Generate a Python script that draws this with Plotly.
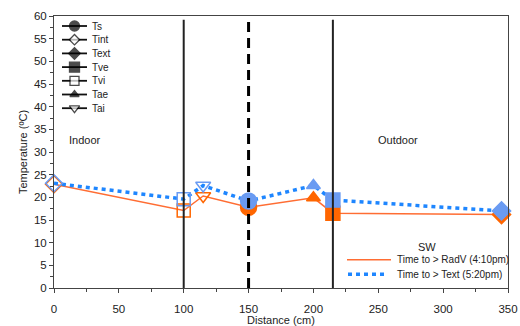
import plotly.graph_objects as go

# Sensor positions along the wall section (cm) and the sensor at each position
distance_cm = [0, 100, 115, 150, 200, 215, 345]
point_sensor = ["Tint", "Tvi", "Tai", "Ts", "Tae", "Tve", "Text"]

# Temperatures (ºC) at the two moments
temp_radv = [22.9, 17.1, 20.3, 17.8, 19.9, 16.5, 16.2]
temp_text = [23.1, 19.6, 22.6, 19.2, 22.6, 19.4, 17.0]

series_names = ["Time to > RadV (4:10pm)", "Time to > Text (5:20pm)"]

# Sensor legend entries
sensor_names = ["Ts", "Tint", "Text", "Tve", "Tvi", "Tae", "Tai"]

# Wall boundaries (solid) and radiator plane (dashed)
boundaries_cm = [100, 215]
radiator_cm = 150

symbol_of = {
    "Ts": "circle", "Tint": "diamond-open", "Text": "diamond",
    "Tve": "square", "Tvi": "square-open", "Tae": "triangle-up",
    "Tai": "triangle-down-open",
}
size_of = {
    "Ts": 16, "Tint": 13, "Text": 14, "Tve": 14, "Tvi": 13,
    "Tae": 12, "Tai": 13,
}
legend_symbol_of = {
    "Ts": "circle", "Tint": "diamond", "Text": "diamond", "Tve": "square",
    "Tvi": "square", "Tae": "triangle-up", "Tai": "triangle-down",
}
legend_fill_of = {
    "Ts": "black", "Tint": "white", "Text": "black", "Tve": "black",
    "Tvi": "white", "Tae": "black", "Tai": "white",
}
legend_size_of = {
    "Ts": 10, "Tint": 8, "Text": 9, "Tve": 10, "Tvi": 9, "Tae": 8, "Tai": 9,
}

FONT = "Liberation Sans, Arial, sans-serif"
ORANGE_LINE = "#FF6D33"
ORANGE_MARK = "#FF6600"
BLUE_LINE = "#1E86FF"
BLUE_MARK = "#6A9BF2"

fig = go.Figure()

symbols = [symbol_of[s] for s in point_sensor]
sizes = [size_of[s] for s in point_sensor]

fig.add_trace(go.Scatter(
    x=distance_cm, y=temp_radv, name=series_names[0], mode="lines+markers",
    line=dict(color=ORANGE_LINE, width=1.5),
    marker=dict(symbol=symbols, size=sizes, color=ORANGE_MARK, opacity=1,
                line=dict(color=ORANGE_MARK, width=1.5)),
    cliponaxis=False, showlegend=False,
))
fig.add_trace(go.Scatter(
    x=distance_cm, y=temp_text, name=series_names[1], mode="lines+markers",
    line=dict(color=BLUE_LINE, width=3.5, dash="4px,4px"),
    marker=dict(symbol=symbols, size=sizes, color=BLUE_MARK, opacity=1,
                line=dict(color=BLUE_MARK, width=1.5)),
    cliponaxis=False, showlegend=False,
))

# Wall and radiator markers
for b in boundaries_cm:
    fig.add_shape(type="line", x0=b, x1=b, y0=0, y1=59.2, xref="x", yref="y",
                  line=dict(color="#222222", width=2))
fig.add_shape(type="line", x0=radiator_cm, x1=radiator_cm, y0=0, y1=59.2,
              xref="x", yref="y",
              line=dict(color="black", width=3, dash="10px,6px"))

# Region labels
fig.add_annotation(x=10, y=32.7, text="Indoor", showarrow=False,
                   xanchor="left", font=dict(family=FONT, size=11, color="#222"))
fig.add_annotation(x=248.5, y=32.7, text="Outdoor", showarrow=False,
                   xanchor="left", font=dict(family=FONT, size=11, color="#222"))

# Legends, laid out on a pixel-scaled overlay axis
leg_x0, leg_x1, leg_xm = 62, 87, 74.5
leg_rows = [26 + 13.7 * i for i in range(len(sensor_names))]
lx, ly = [], []
for yy in leg_rows:
    lx += [leg_x0, leg_x1, None]
    ly += [yy, yy, None]
fig.add_trace(go.Scatter(
    x=lx, y=ly, mode="lines", xaxis="x2", yaxis="y2",
    line=dict(color="#111", width=1.8), showlegend=False, hoverinfo="skip",
))
fig.add_trace(go.Scatter(
    x=[leg_xm] * len(sensor_names), y=leg_rows, mode="markers",
    xaxis="x2", yaxis="y2",
    marker=dict(symbol=[legend_symbol_of[s] for s in sensor_names],
                size=[legend_size_of[s] for s in sensor_names],
                color=[legend_fill_of[s] for s in sensor_names],
                line=dict(color="black", width=1.3)),
    showlegend=False, hoverinfo="skip",
))
for name, yy in zip(sensor_names, leg_rows):
    fig.add_annotation(x=89.5, y=yy, xref="x2", yref="y2", text=name,
                       showarrow=False, xanchor="left",
                       font=dict(family=FONT, size=10, color="#222"))

# Series legend
fig.add_trace(go.Scatter(
    x=[347, 391], y=[259.7, 259.7], mode="lines", xaxis="x2", yaxis="y2",
    line=dict(color=ORANGE_LINE, width=1.5), showlegend=False, hoverinfo="skip",
))
fig.add_trace(go.Scatter(
    x=[348, 387], y=[274.3, 274.3], mode="lines", xaxis="x2", yaxis="y2",
    line=dict(color=BLUE_LINE, width=3.5, dash="4px,4px"),
    showlegend=False, hoverinfo="skip",
))
fig.add_annotation(x=426.5, y=247.3, xref="x2", yref="y2", text="SW",
                   showarrow=False, font=dict(family=FONT, size=11, color="#222"))
for name, yy in zip(series_names, [259.7, 274.3]):
    fig.add_annotation(x=395, y=yy, xref="x2", yref="y2", text=name,
                       showarrow=False, xanchor="left",
                       font=dict(family=FONT, size=10, color="#222"))

axis_common = dict(
    showline=True, linecolor="#444", linewidth=1, mirror=True,
    ticks="outside", ticklen=4, tickwidth=1, tickcolor="#444",
    showgrid=False, zeroline=False, automargin=False,
    tickfont=dict(family=FONT, size=11.5, color="#222"),
)

fig.update_layout(
    width=520, height=326,
    margin=dict(l=54, r=12, t=16, b=38),
    paper_bgcolor="white", plot_bgcolor="white",
    font=dict(family=FONT, color="#222"),
    xaxis=dict(range=[0, 350], dtick=50, tick0=0,
               minor=dict(ticks="outside", ticklen=3, dtick=25, tickcolor="#444"),
               title=dict(text="Distance (cm)", standoff=2,
                          font=dict(family=FONT, size=11)),
               ticklabelstandoff=6,
               **axis_common),
    yaxis=dict(range=[0, 60], dtick=5, tick0=0,
               minor=dict(ticks="outside", ticklen=3, dtick=2.5, tickcolor="#444"),
               title=dict(text="Temperature (ºC)", standoff=4,
                          font=dict(family=FONT, size=11)),
               **axis_common),
    xaxis2=dict(range=[54, 508], overlaying="x", visible=False,
                fixedrange=True, automargin=False),
    yaxis2=dict(range=[288, 16], overlaying="y", visible=False,
                fixedrange=True, automargin=False),
)

fig.write_html("out.html")
